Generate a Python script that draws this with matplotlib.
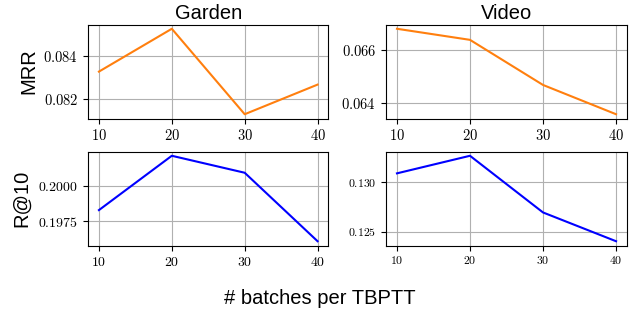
import matplotlib
matplotlib.use("Agg")
import matplotlib.pyplot as plt

plt.rcParams['font.family'] = ['Liberation Sans', 'DejaVu Sans']
plt.rcParams['mathtext.fontset'] = 'cm'

batches = [10, 20, 30, 40]
garden_mrr = [0.08329, 0.0853, 0.08129, 0.08268]
video_mrr = [0.06682, 0.0664, 0.06469, 0.06358]
garden_r10 = [0.19828, 0.20212, 0.20092, 0.19608]
video_r10 = [0.13092, 0.13271, 0.12694, 0.12401]

garden_mrr_ticks = [0.082, 0.084]
video_mrr_ticks = [0.064, 0.066]
garden_r10_ticks = [0.1975, 0.2000]
video_r10_ticks = [0.125, 0.130]

fig = plt.figure(figsize=(6.41, 3.16), dpi=100)
W, H = 641, 316

def make_ax(x0, y0, x1, y1):
    return fig.add_axes([x0 / W, 1 - y1 / H, (x1 - x0) / W, (y1 - y0) / H])

ax1 = make_ax(88, 24.5, 328.5, 118.5)
ax2 = make_ax(386, 24.5, 627, 118.5)
ax3 = make_ax(88, 151.5, 328.5, 245.5)
ax4 = make_ax(386, 151.5, 627, 245.5)

panels = [
    (ax1, garden_mrr, '#ff7f0e', garden_mrr_ticks, '%.3f', 10.5),
    (ax2, video_mrr, '#ff7f0e', video_mrr_ticks, '%.3f', 10.5),
    (ax3, garden_r10, 'blue', garden_r10_ticks, '%.4f', 10),
    (ax4, video_r10, 'blue', video_r10_ticks, '%.3f', 8.5),
]

for ax, vals, col, ticks, fmt, fs in panels:
    ax.plot(batches, vals, color=col, lw=1.5)
    ax.grid(True, color='#b0b0b0', lw=0.8)
    ax.set_xticks(batches, labels=['$%d$' % b for b in batches])
    ax.set_yticks(ticks, labels=['$' + fmt % t + '$' for t in ticks])
    ax.tick_params(labelsize=fs, length=3.5)

ax1.set_title('Garden', fontsize=14.5, pad=4)
ax2.set_title('Video', fontsize=14.5, pad=4)
ax1.set_ylabel('MRR', fontsize=14.5)
ax3.set_ylabel('R@10', fontsize=14.5)
ax1.yaxis.set_label_coords(-50 / 240.5, 0.5)
ax3.yaxis.set_label_coords(-57 / 240.5, 0.5)
fig.text(320 / W, 1 - 298 / H, '# batches per TBPTT', ha='center', va='center', fontsize=14.5)

plt.savefig('out.png', dpi=100)
